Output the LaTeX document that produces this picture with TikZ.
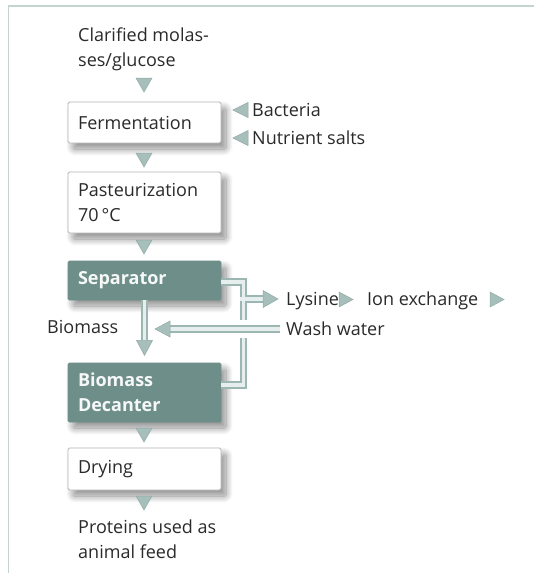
\documentclass[tikz,border=0pt]{standalone}
\usepackage{fontspec}
\setmainfont{Open Sans}
\usetikzlibrary{shadows.blur}
\definecolor{pipe}{HTML}{9CB6B1}
\definecolor{pipein}{HTML}{E6EFED}
\definecolor{trifill}{HTML}{A7BFBA}
\definecolor{tridraw}{HTML}{8EA9A4}
\definecolor{darkbox}{HTML}{6E8F89}
\definecolor{framecol}{HTML}{C3D4D1}
\definecolor{txt}{HTML}{2A2A2A}
\definecolor{boxline}{HTML}{B5B5B5}
\tikzset{
  lbl/.style={anchor=base west, inner sep=0pt, font=\fontsize{18}{25}\selectfont, text=txt, align=left},
  procbox/.style={rectangle, draw=boxline, line width=0.8pt, fill=white, rounded corners=1.5pt,
    text width=133pt, inner xsep=10pt, inner ysep=0pt, align=left,
    font=\fontsize{18}{25}\selectfont, text=txt,
    blur shadow={shadow xshift=5pt, shadow yshift=-6pt, shadow blur steps=14, shadow opacity=45, shadow blur radius=7pt}},
  darkproc/.style={procbox, fill=darkbox, draw=darkbox, text=white!94!darkbox, font=\fontsize{18}{25}\selectfont\bfseries},
  tri/.style={fill=trifill, draw=tridraw, line width=0.5pt, line join=miter},
  pipeout/.style={draw=pipe, line width=7.5pt},
  pipeinner/.style={draw=pipein, line width=3.5pt},
}
\newcommand{\dtri}[2]{\path[tri] (#1-8,#2) -- (#1+8,#2) -- (#1,#2+14) -- cycle;}
\newcommand{\ltri}[2]{\path[tri] (#1,#2) -- (#1+15,#2-7.5) -- (#1+15,#2+7.5) -- cycle;}
\newcommand{\rtri}[2]{\path[tri] (#1,#2-7.5) -- (#1+14,#2) -- (#1,#2+7.5) -- cycle;}
\begin{document}
\begin{tikzpicture}[x=1pt,y=-1pt]
\useasboundingbox (0,0) rectangle (534,573);
% frame
\draw[framecol, line width=1.5pt] (534,6) -- (8.5,6) -- (8.5,573);

% texts
\node[lbl] (input) at (78,66) {Clarified molas-\\ses/glucose};
\node[lbl] (bact) at (252,116) {Bacteria};
\node[lbl] (salt) at (252,144) {Nutrient salts};
\node[lbl] (bmlbl) at (47,333) {Biomass};
\node[lbl] (lys) at (286,305) {Lysine};
\node[lbl] (ion) at (367,305) {Ion exchange};
\node[lbl] (wash) at (286,335) {Wash water};
\node[lbl] (prot) at (78,558) {Proteins used as\\animal feed};

% boxes
\node[procbox, minimum height=41pt] (ferm) at (144.5,122.5) {Fermentation};
\node[procbox, minimum height=61pt] (past) at (144.5,202.5) {Pasteurization\\70\,°C};
\node[darkproc, minimum height=39pt] (sep) at (144.5,280.5) {Separator};
\node[darkproc, minimum height=59pt] (dec) at (144.5,392.5) {Biomass\\Decanter};
\node[procbox, minimum height=42pt] (dry) at (144.5,469) {Drying};

% pipe coordinates
\coordinate (bmA) at (sep.south);
\coordinate (bmB) at ([yshift=-40pt]sep.south);
\coordinate (wA) at (280,329);
\coordinate (wB) at (170,329);
\coordinate (rA) at (sep.east |- 0,282);
\coordinate (rB) at (243.5,282);
\coordinate (rC) at (243.5,320);
\coordinate (rD) at (243.5,338);
\coordinate (rE) at (243.5,385);
\coordinate (rF) at (dec.east |- 0,385);
\coordinate (lA) at (243.5,299);
\coordinate (lB) at (263,299);

% pipes: outer pass
\draw[pipeout] (bmA) -- (bmB);
\draw[pipeout] (wA) -- (wB);
\draw[pipeout, line join=miter] (rA) -- (rB) -- (rC);
\draw[pipeout, line join=miter] (rD) -- (rE) -- (rF);
\draw[pipeout] (lA) -- (lB);
% pipes: inner pass
\draw[pipeinner] (bmA) -- (bmB);
\draw[pipeinner] (wA) -- (wB);
\draw[pipeinner, line join=miter] (rA) -- (rB) -- (rC);
\draw[pipeinner, line join=miter] (rD) -- (rE) -- (rF);
\draw[pipeinner] ([xshift=-3.75pt]lA) -- (lB);

% pipe arrowheads
\path[tri] ([xshift=-8pt]bmB) -- ([xshift=8pt]bmB) -- ([yshift=-15pt]bmB) -- cycle;
\path[tri] ([yshift=-8pt]wB) -- ([yshift=8pt]wB) -- ([xshift=-15pt]wB) -- cycle;
\path[tri] ([yshift=-8.5pt]lB) -- ([yshift=8.5pt]lB) -- ([xshift=15pt]lB) -- cycle;

% flow triangles
\dtri{144}{78}
\dtri{144}{153}
\dtri{144}{240}
\dtri{144}{428}
\dtri{144}{496}
\ltri{233}{110}
\ltri{233}{138}
\rtri{339}{299.5}
\rtri{490}{299.5}
\end{tikzpicture}
\end{document}
